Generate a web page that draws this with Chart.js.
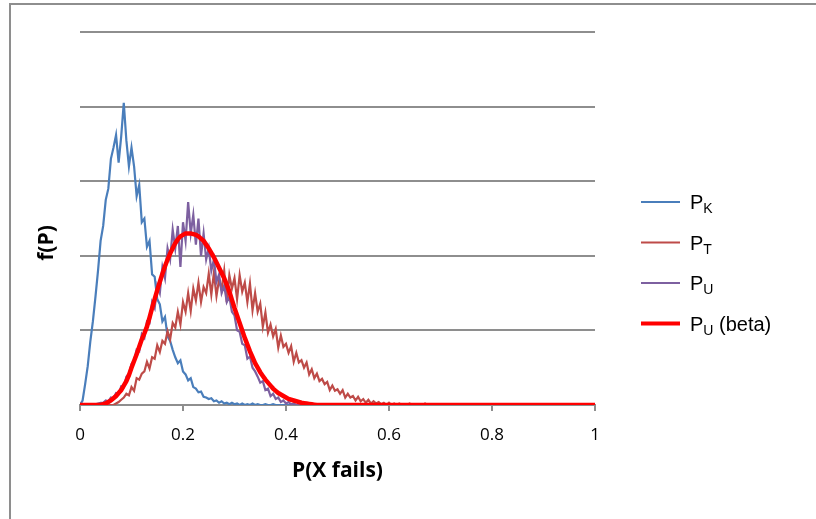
<!DOCTYPE html>
<html>
<head>
<meta charset="utf-8">
<title>f(P)</title>
<script src="https://cdn.jsdelivr.net/npm/chart.js@4.4.1/dist/chart.umd.min.js"></script>
<style>
    html, body { margin: 0; padding: 0; background: #fff; }
</style>
</head>
<body>
<canvas id="densityChart" width="816" height="519"></canvas>
<script>
// x positions of the histogram bins, P(X fails)
const pGrid = [
    0, 0.005, 0.01, 0.015, 0.02, 0.025, 0.03, 0.035, 0.04, 0.045,
    0.05, 0.055, 0.06, 0.065, 0.07, 0.075, 0.08, 0.085, 0.09, 0.095,
    0.1, 0.105, 0.11, 0.115, 0.12, 0.125, 0.13, 0.135, 0.14, 0.145,
    0.15, 0.155, 0.16, 0.165, 0.17, 0.175, 0.18, 0.185, 0.19, 0.195,
    0.2, 0.205, 0.21, 0.215, 0.22, 0.225, 0.23, 0.235, 0.24, 0.245,
    0.25, 0.255, 0.26, 0.265, 0.27, 0.275, 0.28, 0.285, 0.29, 0.295,
    0.3, 0.305, 0.31, 0.315, 0.32, 0.325, 0.33, 0.335, 0.34, 0.345,
    0.35, 0.355, 0.36, 0.365, 0.37, 0.375, 0.38, 0.385, 0.39, 0.395,
    0.4, 0.405, 0.41, 0.415, 0.42, 0.425, 0.43, 0.435, 0.44, 0.445,
    0.45, 0.455, 0.46, 0.465, 0.47, 0.475, 0.48, 0.485, 0.49, 0.495,
    0.5, 0.505, 0.51, 0.515, 0.52, 0.525, 0.53, 0.535, 0.54, 0.545,
    0.55, 0.555, 0.56, 0.565, 0.57, 0.575, 0.58, 0.585, 0.59, 0.595,
    0.6, 0.605, 0.61, 0.615, 0.62, 0.625, 0.63, 0.635, 0.64, 0.645,
    0.65, 0.655, 0.66, 0.665, 0.67, 0.675, 0.68, 0.685, 0.69, 0.695,
    0.7, 1
];

const pK = [
    0, 0.06, 0.28, 0.52, 0.85, 1.12, 1.45, 1.8, 2.2, 2.4,
    2.75, 2.9, 3.3, 3.45, 3.62, 3.25, 3.6, 4.05, 3.55, 3.2,
    3.45, 3.2, 2.8, 2.95, 2.45, 2.5, 2.12, 2.2, 1.75, 1.72,
    1.42, 1.35, 1.12, 1.18, 0.92, 0.86, 0.74, 0.64, 0.56, 0.6,
    0.45, 0.41, 0.33, 0.36, 0.24, 0.22, 0.17, 0.18, 0.11, 0.1,
    0.08, 0.09, 0.05, 0.06, 0.03, 0.05, 0.02, 0.03, 0.01, 0.03,
    0.01, 0.02, 0, 0.02, 0, 0.01, 0, 0.02, 0, 0.01,
    0, 0, 0.01, 0, 0, 0.01, 0, 0, 0, 0,
    0, 0, 0.01, 0, 0, 0, 0, 0, 0, 0,
    0, 0, 0, 0, 0, 0, 0, 0, 0, 0,
    0, 0, 0, 0, 0, 0, 0, 0, 0, 0,
    0, 0, 0, 0, 0, 0, 0, 0, 0, 0,
    0, 0, 0, 0, 0, 0, 0, 0, 0, 0,
    0, 0, 0, 0, 0, 0, 0, 0, 0, 0,
    0, 0
];

const pT = [
    0, 0, 0, 0, 0, 0, 0, 0, 0, 0,
    0, 0, 0, 0, 0.02, 0.04, 0.07, 0.1, 0.15, 0.13,
    0.24, 0.19, 0.36, 0.34, 0.42, 0.45, 0.58, 0.49, 0.64, 0.62,
    0.8, 0.71, 0.86, 0.82, 0.99, 0.88, 1.1, 1.04, 1.25, 1.08,
    1.38, 1.25, 1.5, 1.26, 1.56, 1.4, 1.64, 1.38, 1.58, 1.5,
    1.76, 1.48, 1.77, 1.46, 1.68, 1.55, 1.8, 1.38, 1.74, 1.56,
    1.7, 1.42, 1.74, 1.52, 1.64, 1.38, 1.63, 1.27, 1.5, 1.25,
    1.36, 1.05, 1.24, 0.97, 1.08, 0.92, 1.02, 0.77, 0.93, 0.78,
    0.82, 0.7, 0.79, 0.58, 0.7, 0.57, 0.6, 0.5, 0.57, 0.41,
    0.48, 0.36, 0.42, 0.32, 0.35, 0.28, 0.31, 0.2, 0.26, 0.19,
    0.21, 0.15, 0.2, 0.1, 0.15, 0.1, 0.12, 0.06, 0.11, 0.05,
    0.08, 0.03, 0.07, 0.02, 0.05, 0.02, 0.04, 0.01, 0.03, 0,
    0.03, 0, 0.02, 0, 0.02, 0, 0.01, 0, 0.02, 0,
    0, 0.01, 0, 0, 0.02, 0, 0, 0, 0, 0,
    0, 0
];

const pU = [
    0, 0, 0, 0, 0, 0, 0.01, 0.02, 0.03, 0.03,
    0.06, 0.05, 0.1, 0.09, 0.16, 0.15, 0.25, 0.24, 0.38, 0.42,
    0.55, 0.6, 0.74, 0.72, 0.95, 0.9, 1.12, 1.1, 1.38, 1.3,
    1.6, 1.5, 1.85, 1.7, 2.1, 1.95, 2.35, 2.1, 2.4, 1.85,
    2.45, 2.2, 2.72, 2.3, 2.55, 2.15, 2.5, 2.0, 2.3, 1.95,
    2.1, 1.8, 1.95, 1.65, 1.75, 1.5, 1.6, 1.38, 1.45, 1.25,
    1.2, 1.0, 0.98, 0.82, 0.8, 0.62, 0.65, 0.5, 0.45, 0.38,
    0.3, 0.32, 0.2, 0.22, 0.12, 0.15, 0.08, 0.1, 0.04, 0.06,
    0.02, 0.04, 0.01, 0.02, 0, 0, 0, 0, 0, 0,
    0, 0, 0, 0, 0, 0, 0, 0, 0, 0,
    0, 0, 0, 0, 0, 0, 0, 0, 0, 0,
    0, 0, 0, 0, 0, 0, 0, 0, 0, 0,
    0, 0, 0, 0, 0, 0, 0, 0, 0, 0,
    0, 0, 0, 0, 0, 0, 0, 0, 0, 0,
    0, 0
];

const pUBeta = [
    0, 0, 0, 0, 0, 0, 0, 0, 0, 0.01,
    0.02, 0.04, 0.06, 0.09, 0.12, 0.16, 0.2, 0.26, 0.32, 0.4,
    0.5, 0.59, 0.68, 0.78, 0.88, 0.96, 1.05, 1.17, 1.3, 1.42,
    1.54, 1.65, 1.76, 1.86, 1.95, 2.03, 2.1, 2.17, 2.22, 2.26,
    2.28, 2.3, 2.3, 2.3, 2.29, 2.28, 2.26, 2.23, 2.2, 2.15,
    2.1, 2.04, 1.98, 1.91, 1.84, 1.77, 1.7, 1.61, 1.52, 1.41,
    1.3, 1.2, 1.1, 1.0, 0.9, 0.81, 0.72, 0.64, 0.56, 0.5,
    0.44, 0.39, 0.34, 0.3, 0.26, 0.22, 0.19, 0.16, 0.14, 0.12,
    0.1, 0.08, 0.07, 0.06, 0.05, 0.04, 0.03, 0.025, 0.02, 0.015,
    0.01, 0.005, 0, 0, 0, 0, 0, 0, 0, 0,
    0, 0, 0, 0, 0, 0, 0, 0, 0, 0,
    0, 0, 0, 0, 0, 0, 0, 0, 0, 0,
    0, 0, 0, 0, 0, 0, 0, 0, 0, 0,
    0, 0, 0, 0, 0, 0, 0, 0, 0, 0,
    0, 0
];

const legendItems = [
    { sub: 'K', extra: '', color: '#4a7ebb', width: 2 },
    { sub: 'T', extra: '', color: '#be4b48', width: 2 },
    { sub: 'U', extra: '', color: '#7d60a0', width: 2 },
    { sub: 'U', extra: ' (beta)', color: '#ff0000', width: 4 }
];

const toPoints = ys => pGrid.map((x, i) => ({ x: x, y: ys[i] }));

// frame, y title and the legend with subscripts
const extras = {
    id: 'extras',
    beforeDraw(chart) {
        const c = chart.ctx;
        c.save();
        c.fillStyle = '#fff';
        c.fillRect(0, 0, chart.width, chart.height);
        c.strokeStyle = '#8e8e8e';
        c.lineWidth = 2;
        c.beginPath();
        c.moveTo(10, 519);
        c.lineTo(10, 4);
        c.lineTo(816, 4);
        c.stroke();
        c.restore();
    },
    afterDraw(chart) {
        const c = chart.ctx;
        c.save();
        c.translate(47, 243);
        c.rotate(-Math.PI / 2);
        c.font = 'bold 21px "Open Sans"';
        c.fillStyle = '#000';
        c.textAlign = 'center';
        c.textBaseline = 'middle';
        c.fillText('f(P)', 0, 0);
        c.restore();

        c.save();
        legendItems.forEach((it, i) => {
            const y = 202 + i * 40.5;
            c.strokeStyle = it.color;
            c.lineWidth = it.width;
            c.beginPath();
            c.moveTo(641, y);
            c.lineTo(680, y);
            c.stroke();
            c.fillStyle = '#000';
            c.textBaseline = 'alphabetic';
            c.font = '20px "Liberation Sans"';
            c.fillText('P', 690, y + 7);
            let w = c.measureText('P').width;
            c.font = '14px "Liberation Sans"';
            c.fillText(it.sub, 690 + w, y + 11);
            w += c.measureText(it.sub).width;
            if (it.extra) {
                c.font = '20px "Liberation Sans"';
                c.fillText(it.extra, 690 + w, y + 7);
            }
        });
        c.restore();
    }
};

const ctx = document.getElementById('densityChart').getContext('2d');
const densityChart = new Chart(ctx, {
    type: 'line',
    data: {
        datasets: [{
            label: 'PK',
            data: toPoints(pK),
            borderColor: '#4a7ebb',
            borderWidth: 2.2,
            order: 4
        }, {
            label: 'PT',
            data: toPoints(pT),
            borderColor: '#be4b48',
            borderWidth: 2.2,
            order: 3
        }, {
            label: 'PU',
            data: toPoints(pU),
            borderColor: '#7d60a0',
            borderWidth: 2.2,
            order: 2
        }, {
            label: 'PU (beta)',
            data: toPoints(pUBeta),
            borderColor: '#ff0000',
            borderWidth: 4.5,
            order: 1
        }]
    },
    options: {
        responsive: false,
        animation: false,
        elements: {
            point: { radius: 0 },
            line: { tension: 0, fill: false }
        },
        layout: {
            padding: { left: 80, top: 32, right: 221, bottom: 0 }
        },
        plugins: {
            legend: { display: false },
            tooltip: { enabled: false }
        },
        scales: {
            x: {
                type: 'linear',
                min: 0,
                max: 1,
                afterFit: s => { s.height = 114; },
                ticks: {
                    stepSize: 0.2,
                    padding: 14,
                    color: '#000',
                    font: { family: '"Open Sans"', size: 17 },
                    callback: v => String(Math.round(v * 10) / 10)
                },
                grid: {
                    drawOnChartArea: false,
                    drawTicks: true,
                    tickLength: 6,
                    color: '#8e8e8e',
                    lineWidth: 2
                },
                border: { display: true, color: '#8e8e8e', width: 2 },
                title: {
                    display: true,
                    text: 'P(X fails)',
                    color: '#000',
                    font: { family: '"Open Sans"', size: 21, weight: 'bold' },
                    padding: { top: 0, bottom: 35 }
                }
            },
            y: {
                min: 0,
                max: 5,
                afterFit: s => { s.width = 0; },
                ticks: { display: false, stepSize: 1 },
                grid: { color: '#8e8e8e', lineWidth: 2, drawTicks: false },
                border: { display: false }
            }
        }
    },
    plugins: [extras]
});
</script>
</body>
</html>
